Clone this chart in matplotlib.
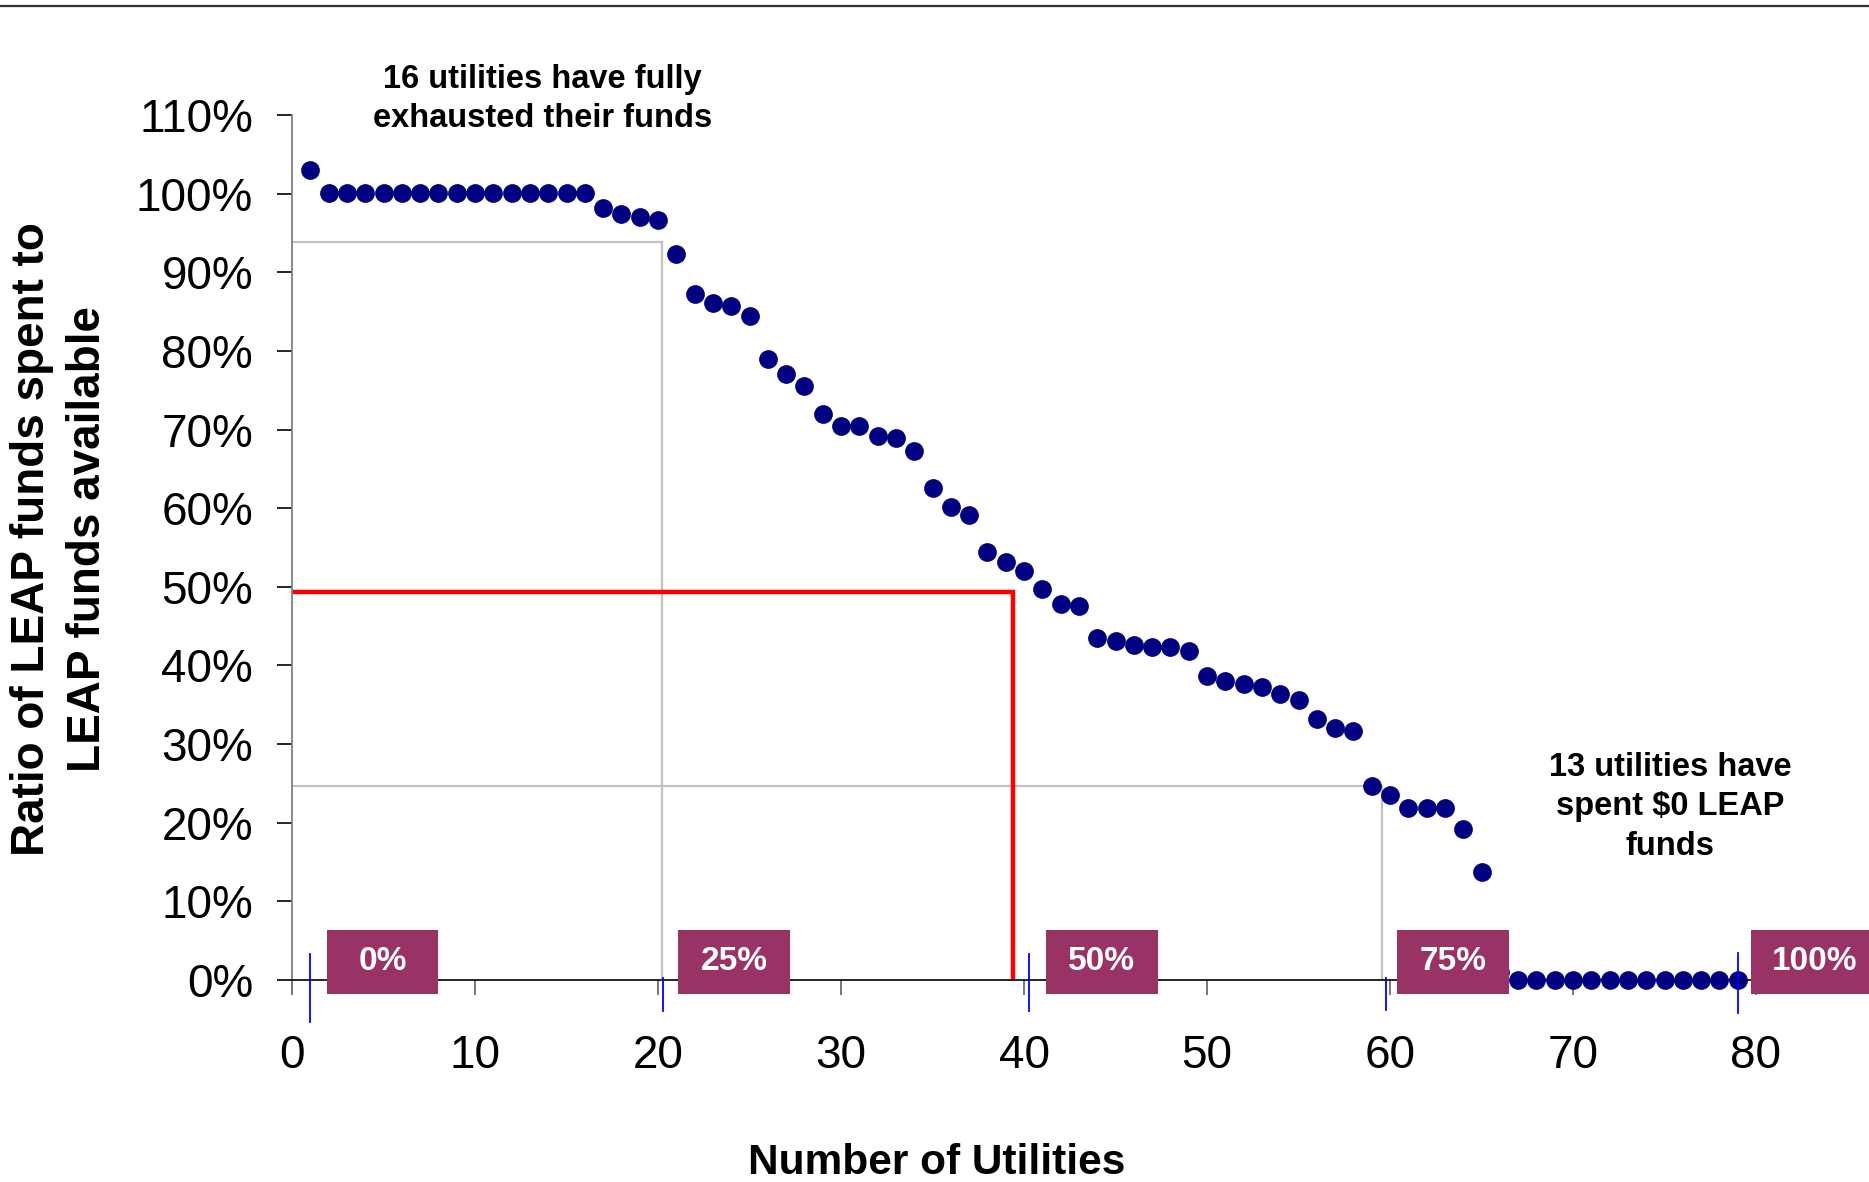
import matplotlib
matplotlib.use("Agg")
import matplotlib.pyplot as plt
from matplotlib.patches import Rectangle
from matplotlib.lines import Line2D
from matplotlib.ticker import FuncFormatter

plt.rcParams['font.family'] = ['Liberation Sans', 'DejaVu Sans']

# Ratio of LEAP funds spent to funds available, per utility (sorted, in %)
utility = list(range(1, 80))
ratio_pct = [
    103.0, 100.1, 100.1, 100.1, 100.1, 100.1, 100.1, 100.1, 100.1, 100.1,
    100.1, 100.1, 100.1, 100.1, 100.1, 100.1, 98.2, 97.4, 97.0, 96.6,
    92.3, 87.2, 86.1, 85.7, 84.5, 79.0, 77.1, 75.5, 72.0, 70.4,
    70.4, 69.2, 68.9, 67.3, 62.6, 60.2, 59.1, 54.4, 53.2, 52.0,
    49.7, 47.8, 47.5, 43.5, 43.1, 42.6, 42.3, 42.3, 41.9, 38.7,
    38.0, 37.6, 37.2, 36.4, 35.6, 33.2, 32.1, 31.7, 24.7, 23.5,
    21.9, 21.9, 21.9, 19.2, 13.7, 1.0, 0.0, 0.0, 0.0, 0.0,
    0.0, 0.0, 0.0, 0.0, 0.0, 0.0, 0.0, 0.0, 0.0,
]

# quartile guide lines: (x where it drops, level in %)
guide_gray = [(20.2, 93.9), (59.55, 24.7)]
guide_red = (39.4, 49.3)

# percentile markers along the x axis
pct_labels = ["0%", "25%", "50%", "75%", "100%"]
pct_marker_x = [1.0, 20.3, 40.3, 59.8, 79.0]
pct_marker_span = [(3.3, -5.3), (0.3, -4.0), (3.3, -4.0), (0.3, -3.8), (3.4, -4.2)]
box_left = [1.9, 21.1, 41.2, 60.4, 79.7]
box_width = [6.1, 6.1, 6.1, 6.1, 7.0]
label_x = [4.95, 24.15, 44.25, 63.45, 83.2]

fig = plt.figure(figsize=(18.69, 11.82), dpi=100)
ax = fig.add_axes([292 / 1869, 202 / 1182, 1464 / 1869, 865 / 1182])

for gx, gy in guide_gray:
    ax.plot([0, gx, gx], [gy, gy, 0], color='#c0c0c0', lw=1.6, zorder=2,
             solid_joinstyle='miter')
ax.plot([0, guide_red[0], guide_red[0]], [guide_red[1], guide_red[1], 0],
        color='#ff0000', lw=3.2, zorder=2, solid_joinstyle='miter')

ax.plot(utility, ratio_pct, 'o', color='#000080', markersize=13.5,
        markeredgewidth=0, zorder=3, clip_on=False)

for mx, (top, bot) in zip(pct_marker_x, pct_marker_span):
    ax.plot([mx, mx], [top, bot], color='#0000ff', lw=1.3, zorder=4, clip_on=False)

for lab, bl, bw, lx in zip(pct_labels, box_left, box_width, label_x):
    ax.add_patch(Rectangle((bl, -1.8), bw, 8.2, facecolor='#993366',
                           edgecolor='none', zorder=5, clip_on=False))
    ax.text(lx, 2.3, lab, color='white', fontsize=24, fontweight='bold',
            ha='center', va='center', zorder=6, clip_on=False)

ax.set_xlim(0, 80)
ax.set_ylim(0, 110)
ax.set_xticks(range(0, 81, 10))
ax.set_yticks(range(0, 111, 10))
ax.yaxis.set_major_formatter(FuncFormatter(lambda v, p: f"{int(v)}%"))

for s in ['top', 'right']:
    ax.spines[s].set_visible(False)
ax.spines['left'].set_color('#808080')
ax.spines['left'].set_linewidth(1.3)
ax.spines['bottom'].set_color('#000000')
ax.spines['bottom'].set_linewidth(1.2)
ax.tick_params(axis='y', direction='out', length=11, width=1.2, color='#000000',
               labelsize=33, pad=17)
ax.tick_params(axis='x', direction='out', length=11, width=1.2, color='#606060',
               labelsize=33, pad=28)

ax.text(13.7, 112.0, "16 utilities have fully\nexhausted their funds",
        fontsize=23.5, fontweight='bold', ha='center', va='center', clip_on=False,
        linespacing=1.35)
ax.text(75.3, 22.0, "13 utilities have\nspent $0 LEAP\nfunds",
        fontsize=23.5, fontweight='bold', ha='center', va='center', linespacing=1.35)

fig.text(60 / 1869, 1 - 539 / 1182, "Ratio of LEAP funds spent to\nLEAP funds available",
         rotation=90, fontsize=33, fontweight='bold', ha='center', va='center',
         multialignment='center', linespacing=1.37)
fig.text(937 / 1869, 8 / 1182, "Number of Utilities", fontsize=30.5,
         fontweight='bold', ha='center', va='baseline')

fig.add_artist(Line2D([0, 1], [1 - 6 / 1182, 1 - 6 / 1182], color='#333333', lw=1.6))

fig.savefig("out.png", dpi=100)
